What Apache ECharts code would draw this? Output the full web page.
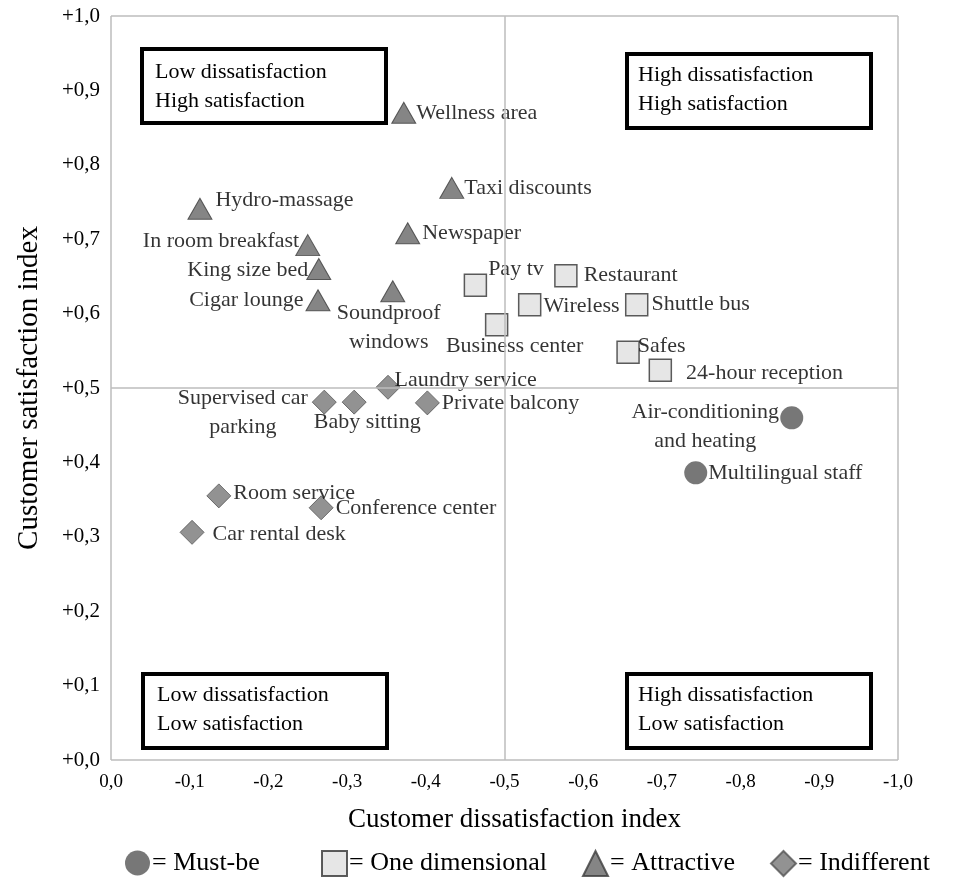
<!DOCTYPE html>
<html>
<head>
<meta charset="utf-8">
<script src="https://cdn.jsdelivr.net/npm/echarts@6/dist/echarts.min.js"></script>
<style>
  html, body { margin: 0; padding: 0; background: #fff; }
  #chart { width: 963px; height: 881px; }
</style>
</head>
<body>
<div id="chart"></div>
<script>
'use strict';

// Must-be
var mustNames = ['Air-conditioning\nand heating', 'Multilingual staff'];
var mustX = [-0.865, -0.743];
var mustY = [0.460, 0.386];

// One dimensional
var oneNames = ['Pay tv', 'Restaurant', 'Wireless', 'Shuttle bus', 'Business center', 'Safes', '24-hour reception'];
var oneX = [-0.463, -0.578, -0.532, -0.668, -0.490, -0.657, -0.698];
var oneY = [0.638, 0.651, 0.612, 0.612, 0.585, 0.548, 0.524];

// Attractive
var attrNames = ['Wellness area', 'Taxi discounts', 'Hydro-massage', 'Newspaper', 'In room breakfast', 'King size bed', 'Cigar lounge', 'Soundproof\nwindows'];
var attrX = [-0.372, -0.433, -0.113, -0.377, -0.250, -0.264, -0.263, -0.358];
var attrY = [0.870, 0.769, 0.741, 0.708, 0.692, 0.660, 0.618, 0.630];

// Indifferent
var indNames = ['Laundry service', 'Supervised car\nparking', 'Baby sitting', 'Private balcony', 'Room service', 'Conference center', 'Car rental desk'];
var indX = [-0.352, -0.271, -0.309, -0.402, -0.137, -0.267, -0.103];
var indY = [0.501, 0.481, 0.481, 0.480, 0.355, 0.339, 0.306];

var seriesNames = ['= Must-be', '= One dimensional', '= Attractive', '= Indifferent'];
var xTicks = ['0,0', '-0,1', '-0,2', '-0,3', '-0,4', '-0,5', '-0,6', '-0,7', '-0,8', '-0,9', '-1,0'];
var yTicks = ['+0,0', '+0,1', '+0,2', '+0,3', '+0,4', '+0,5', '+0,6', '+0,7', '+0,8', '+0,9', '+1,0'];

var FONT = '"Liberation Serif", "DejaVu Serif", serif';

// label placement per point
var labelOpts = {
  'Air-conditioning\nand heating': { position: 'left', align: 'center', offset: [-70, 9] },
  'Multilingual staff': { position: 'right', distance: 1 },
  'Pay tv': { position: 'right', distance: 1, offset: [0, -16] },
  'Restaurant': { position: 'right', distance: 6 },
  'Wireless': { position: 'right', distance: 2, offset: [0, 2] },
  'Shuttle bus': { position: 'right', distance: 3 },
  'Business center': { position: 'bottom', distance: 0, offset: [18, -5] },
  'Safes': { position: 'right', distance: -2, offset: [0, -6] },
  '24-hour reception': { position: 'right', distance: 14, offset: [0, 3] },
  'Wellness area': { position: 'right', distance: 0 },
  'Taxi discounts': { position: 'right', distance: 0 },
  'Hydro-massage': { position: 'right', distance: 3, offset: [0, -8] },
  'Newspaper': { position: 'right', distance: 2 },
  'In room breakfast': { position: 'left', distance: -4, offset: [0, -4] },
  'King size bed': { position: 'left', distance: -2, offset: [0, 1] },
  'Cigar lounge': { position: 'left', distance: 2 },
  'Soundproof\nwindows': { position: 'bottom', distance: 0, offset: [-4, -4] },
  'Laundry service': { position: 'right', distance: -6, offset: [0, -7] },
  'Supervised car\nparking': { position: 'left', align: 'center', offset: [-64, 11] },
  'Baby sitting': { position: 'bottom', distance: 0, offset: [13, -7] },
  'Private balcony': { position: 'right', distance: 2 },
  'Room service': { position: 'right', distance: 2, offset: [0, -3] },
  'Conference center': { position: 'right', distance: 2 },
  'Car rental desk': { position: 'right', distance: 8, offset: [0, 2] }
};

function buildData(names, xs, ys) {
  var out = [];
  for (var i = 0; i < names.length; i++) {
    var lo = labelOpts[names[i]] || {};
    out.push({
      name: names[i],
      value: [xs[i], ys[i]],
      label: Object.assign({ show: true, formatter: '{b}', color: '#000' }, lo)
    });
  }
  return out;
}

var labelBase = {
  show: true,
  color: '#000',
  fontFamily: FONT,
  fontSize: 22,
  lineHeight: 29
};

function quadBox(left, top, tx, ty, l1, l2) {
  return {
    type: 'group',
    left: left,
    top: top,
    children: [
      { type: 'rect', shape: { x: 0, y: 0, width: 244, height: 74 },
        style: { fill: '#fff', stroke: '#000', lineWidth: 4 } },
      { type: 'text', x: tx, y: ty,
        style: { text: l1 + '\n' + l2, fill: '#000', font: '22px ' + FONT, lineHeight: 29 } }
    ]
  };
}

function legendAt(name, left) {
  return {
    data: [name],
    left: left,
    top: 850,
    itemWidth: 25,
    itemHeight: 25,
    itemGap: 0,
    padding: 0,
    textStyle: { fontFamily: FONT, fontSize: 26, color: '#000', padding: [0, 0, 0, -3] }
  };
}

var chart = echarts.init(document.getElementById('chart'));

var option = {
  backgroundColor: '#fff',
  animation: false,
  grid: { left: 111, right: 65, top: 16, bottom: 121 },
  xAxis: {
    type: 'value',
    min: -1,
    max: 0,
    interval: 0.1,
    inverse: true,
    name: 'Customer dissatisfaction index',
    nameLocation: 'middle',
    nameGap: 46,
    nameTextStyle: { fontFamily: FONT, fontSize: 27, color: '#000', padding: [0, 0, 0, 20] },
    axisLine: { show: false },
    axisTick: { show: false },
    splitLine: { show: false },
    axisLabel: {
      margin: 13,
      fontFamily: FONT,
      fontSize: 19,
      color: '#000',
      formatter: function (v) { return xTicks[Math.round(-v * 10)]; }
    }
  },
  yAxis: {
    type: 'value',
    min: 0,
    max: 1,
    interval: 0.1,
    name: 'Customer satisfaction index',
    nameLocation: 'middle',
    nameGap: 67,
    nameTextStyle: { fontFamily: FONT, fontSize: 29, color: '#000' },
    axisLine: { show: false },
    axisTick: { show: false },
    splitLine: { show: false },
    axisLabel: {
      margin: 11,
      fontFamily: FONT,
      fontSize: 21,
      color: '#000',
      formatter: function (v) { return yTicks[Math.round(v * 10)]; }
    }
  },
  legend: [
    legendAt(seriesNames[0], 125),
    legendAt(seriesNames[1], 321),
    legendAt(seriesNames[2], 582),
    legendAt(seriesNames[3], 770)
  ],
  graphic: [
    quadBox(140, 47, 13, 9, 'Low dissatisfaction', 'High satisfaction'),
    quadBox(625, 52, 11, 7, 'High dissatisfaction', 'High satisfaction'),
    quadBox(141, 672, 14, 7, 'Low dissatisfaction', 'Low satisfaction'),
    quadBox(625, 672, 11, 7, 'High dissatisfaction', 'Low satisfaction')
  ],
  series: [
    {
      name: seriesNames[0],
      type: 'scatter',
      symbol: 'circle',
      symbolSize: 23,
      itemStyle: { color: '#555555' },
      label: labelBase,
      data: buildData(mustNames, mustX, mustY),
      z: 3
    },
    {
      name: seriesNames[1],
      type: 'scatter',
      symbol: 'rect',
      symbolSize: 22,
      itemStyle: { color: '#e0e0e0', borderColor: '#333', borderWidth: 1.5 },
      label: labelBase,
      data: buildData(oneNames, oneX, oneY),
      z: 3
    },
    {
      name: seriesNames[2],
      type: 'scatter',
      symbol: 'triangle',
      symbolSize: [24, 21],
      itemStyle: { color: '#666666', borderColor: '#3c3c3c', borderWidth: 1 },
      label: labelBase,
      data: buildData(attrNames, attrX, attrY),
      z: 3
    },
    {
      name: seriesNames[3],
      type: 'scatter',
      symbol: 'diamond',
      symbolSize: 24,
      itemStyle: { color: '#777777', borderColor: '#555', borderWidth: 1 },
      label: labelBase,
      data: buildData(indNames, indX, indY),
      z: 3
    },
    {
      // plot frame and quadrant dividers
      type: 'line',
      silent: true,
      data: [],
      markLine: {
        silent: true,
        symbol: 'none',
        label: { show: false },
        lineStyle: { color: '#bdbdbd', width: 1.5, type: 'solid' },
        data: [
          { xAxis: -0.5 }, { yAxis: 0.5 },
          { xAxis: 0 }, { xAxis: -1 }, { yAxis: 0 }, { yAxis: 1 }
        ]
      },
      z: 1
    }
  ]
};

chart.setOption(option);
</script>
</body>
</html>
